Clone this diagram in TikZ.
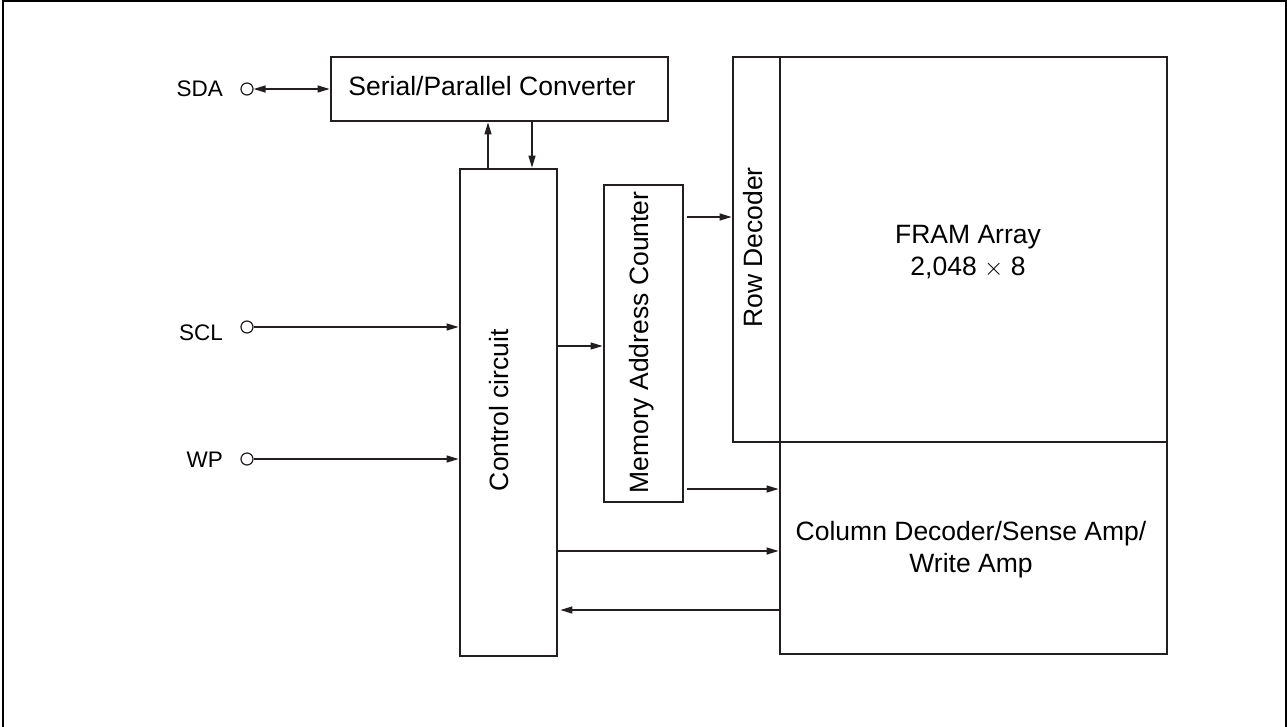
\documentclass[tikz,border=0pt]{standalone}
\usepackage{fontspec}
\setmainfont{Liberation Sans}
\usetikzlibrary{arrows.meta}
\definecolor{ink}{HTML}{231F20}
\begin{document}
\begin{tikzpicture}[x=1pt,y=-1pt,
  blk/.style={draw=ink,line width=2.8pt,inner sep=0pt},
  txt/.style={font=\fontsize{26.5}{32}\selectfont,inner sep=0pt,align=center},
  pinlbl/.style={font=\fontsize{22.5}{27}\selectfont,inner sep=0pt,anchor=east},
  pincirc/.style={draw=ink,circle,line width=1.2pt,minimum size=12pt,inner sep=0pt,fill=white},
  arr/.style={draw=ink,line width=1.3pt,-{Triangle[length=12pt,width=7pt]}},
  darr/.style={draw=ink,line width=1.3pt,{Triangle[length=12pt,width=7pt]}-{Triangle[length=12pt,width=7pt]}}]
\useasboundingbox (0,0) rectangle (1287,726);
% outer frame
\draw[line width=2.6pt,black] (3,760) -- (3,0.8) -- (1286.5,0.8) -- (1286.5,760);
% blocks
\node[blk,minimum width=337pt,minimum height=64pt] (spc) at (499.5,89) {};
\node[blk,minimum width=97pt,minimum height=487pt] (ctrl) at (508.5,412.5) {};
\node[blk,minimum width=79pt,minimum height=317pt] (mac) at (643.5,343.5) {};
\node[blk,minimum width=47pt,minimum height=385pt] (row) at (756.5,249.5) {};
\node[blk,minimum width=387pt,minimum height=385pt] (fram) at (973.5,249.5) {};
\node[blk,minimum width=387pt,minimum height=212pt] (col) at (973.5,548) {};
% block texts
\node[txt] (spct) at (492,86) {Serial/Parallel Converter};
\node[txt,rotate=90] (ctrlt) at (499,410) {Control circuit};
\node[txt,rotate=90] (mact) at (642,342.5) {Memory Address Counter};
\node[txt,rotate=90] (rowt) at (753.5,247.5) {Row Decoder};
\node[txt] (framt) at (968,252) {FRAM Array\\2,048 $\times$ 8};
\node[txt] (colt) at (971,549.5) {Column Decoder/Sense Amp/\\Write Amp};
% pins
\node[pincirc] (sda) at (247,89) {};
\node[pincirc] (scl) at (247,327) {};
\node[pincirc] (wp) at (247,459) {};
\node[pinlbl] (sdat) at (223,89) {SDA};
\node[pinlbl] (sclt) at (223,333) {SCL};
\node[pinlbl] (wpt) at (223,460) {WP};
% connectors
\draw[darr] (sda.east) -- (sda.east -| spc.west);
\draw[arr] (488,0 |- ctrl.north) -- (488,0 |- spc.south);
\draw[arr] (532,0 |- spc.south) -- (532,0 |- ctrl.north);
\draw[arr] (scl.east) -- (scl.east -| ctrl.west);
\draw[arr] (wp.east) -- (wp.east -| ctrl.west);
\draw[arr] (0,346 -| ctrl.east) -- (0,346 -| mac.west);
\draw[arr] ([xshift=3pt]0,217 -| mac.east) -- (0,217 -| row.west);
\draw[arr] ([xshift=3pt]0,489 -| mac.east) -- (0,489 -| col.west);
\draw[arr] (0,551 -| ctrl.east) -- (0,551 -| col.west);
\draw[arr] (0,610 -| col.west) -- ([xshift=2pt]0,610 -| ctrl.east);
\end{tikzpicture}
\end{document}
